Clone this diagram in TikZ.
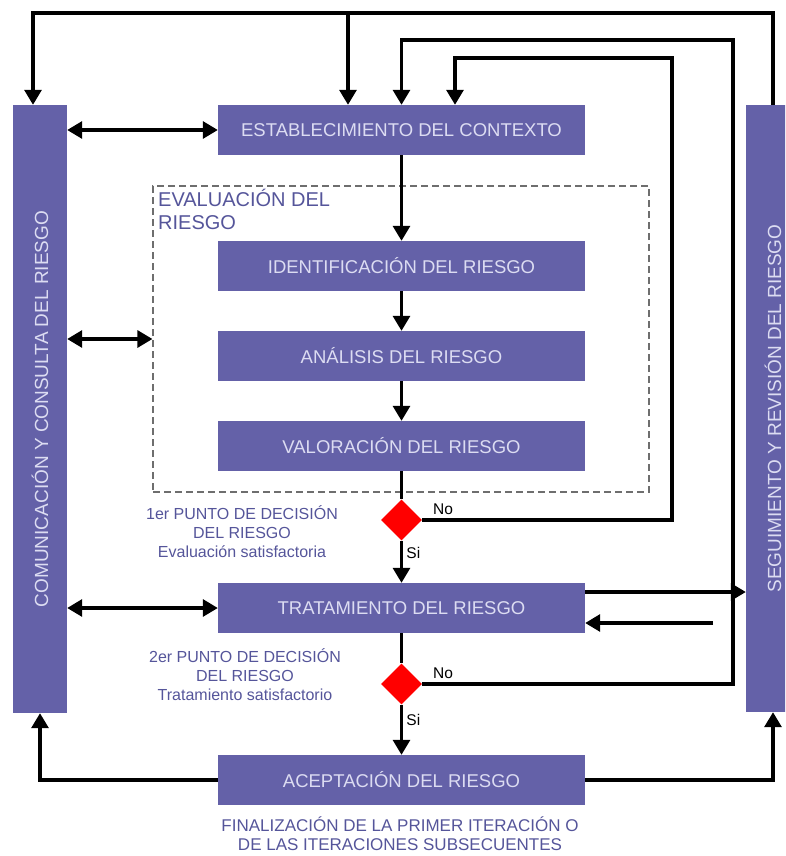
\documentclass[tikz,border=0pt]{standalone}
\usepackage{graphicx}
\usepackage{fontspec}
\setmainfont{Liberation Sans}
\usetikzlibrary{arrows.meta,positioning,shapes.geometric}
\definecolor{Slate}{HTML}{6461A8}
\definecolor{PaleText}{HTML}{DCDCF2}
\definecolor{NoteBlue}{HTML}{55559A}
\definecolor{DashGray}{HTML}{6E6E6E}
\definecolor{DecRed}{HTML}{FF0000}

\begin{document}
\begin{tikzpicture}[x=1pt,y=-1pt,>={Triangle[length=15pt,width=17pt]}]
    \tikzset{
      box/.style={fill=Slate,text=PaleText,minimum width=367pt,minimum height=50pt,
        inner sep=0pt,font=\fontsize{18.5}{22}\selectfont},
      bar/.style={box,minimum width=54pt,minimum height=608pt,font=\fontsize{19}{22}\selectfont},
      flow/.style={line width=3.2pt},
      dec/.style={diamond,fill=DecRed,minimum width=41pt,minimum height=41pt,inner sep=0pt},
      note/.style={text=NoteBlue,align=center,font=\fontsize{16}{19}\selectfont},
      tag/.style={font=\fontsize{15.5}{17}\selectfont}
    }
    \useasboundingbox (0,0) rectangle (785,856);
    \clip (0,0) rectangle (785,856);
    % columna central
    \node[box] (estab) at (401.5,130) {ESTABLECIMIENTO DEL CONTEXTO};
    \node[draw=DashGray,line width=1.2pt,dash pattern=on 7pt off 4pt,
      minimum width=496pt,minimum height=306pt,inner sep=0pt] (eval) at (401,339) {};
    \node[anchor=north west,align=left,text=NoteBlue,inner sep=0pt,
      font=\fontsize{20}{23}\selectfont] (evaltitle) at (158,189) {EVALUACIÓN DEL\\RIESGO};
    \node[box] (ident) at (401.5,266) {IDENTIFICACIÓN DEL RIESGO};
    \node[box] (anal) at (401.5,356) {ANÁLISIS DEL RIESGO};
    \node[box] (valor) at (401.5,446) {VALORACIÓN DEL RIESGO};
    \node[dec] (d1) at (401.5,520) {};
    \node[box] (trat) at (401.5,608) {TRATAMIENTO DEL RIESGO};
    \node[dec] (d2) at (401.5,684) {};
    \node[box] (acep) at (401.5,780) {ACEPTACIÓN DEL RIESGO};
    % barras laterales
    \node[bar] (com) at (40,409) {\rotatebox{90}{COMUNICACIÓN Y CONSULTA DEL RIESGO}};
    \node[bar,minimum height=607pt] (seg) at (773,408.5) {\rotatebox{90}{SEGUIMIENTO Y REVISIÓN DEL RIESGO}};
    % textos
    \node[note] (nota1) at (242,532) {1er PUNTO DE DECISIÓN\\DEL RIESGO\\Evaluación satisfactoria};
    \node[note] (nota2) at (245,675) {2er PUNTO DE DECISIÓN\\DEL RIESGO\\Tratamiento satisfactorio};
    \node[note,font=\fontsize{17}{19}\selectfont] (fin) at (400,834)
      {FINALIZACIÓN DE LA PRIMER ITERACIÓN O\\DE LAS ITERACIONES SUBSECUENTES};
    % puntos de paso
    \coordinate (topL) at (33,13);
    \coordinate (branch) at (348,13);
    \coordinate (loopA) at (733,40);
    \coordinate (loopB) at (672,58);
    \coordinate (feed) at (713,623);
    \coordinate (tratout) at ([yshift=16pt]trat.east);
    % flujo principal
    \foreach \a/\b in {estab/ident,ident/anal,anal/valor}
      \draw[->,flow] (\a) -- (\b);
    \draw[flow] (valor) -- (d1);
    \draw[->,flow] (d1) -- node[tag,right,pos=0.3] {Si} (trat);
    \draw[flow] (trat) -- (d2);
    \draw[->,flow] (d2) -- node[tag,right,pos=0.3] {Si} (acep);
    % retornos
    \draw[->,flow] (d1.east) node[tag,above right,xshift=6pt] {No} -| (loopB) -| ([xshift=53.5pt]estab.north);
    \draw[->,flow] (d2.east) node[tag,above right,xshift=6pt] {No} -| (loopA) -| (estab.north);
    \draw[->,flow] (seg.north) |- (topL) -- (topL |- com.north);
    \draw[->,flow] (branch) -- (branch |- estab.north);
    % comunicacion
    \foreach \b in {estab,eval,trat}
      \draw[<->,flow] (com.east |- \b.west) -- (\b.west);
    \draw[->,flow] (tratout) -- (tratout -| seg.west);
    \draw[->,flow] (feed) -- (feed -| trat.east);
    \draw[->,flow] (acep.west) -| (com.south);
    \draw[->,flow] (acep.east) -| (seg.south);
  \end{tikzpicture}
\end{document}
